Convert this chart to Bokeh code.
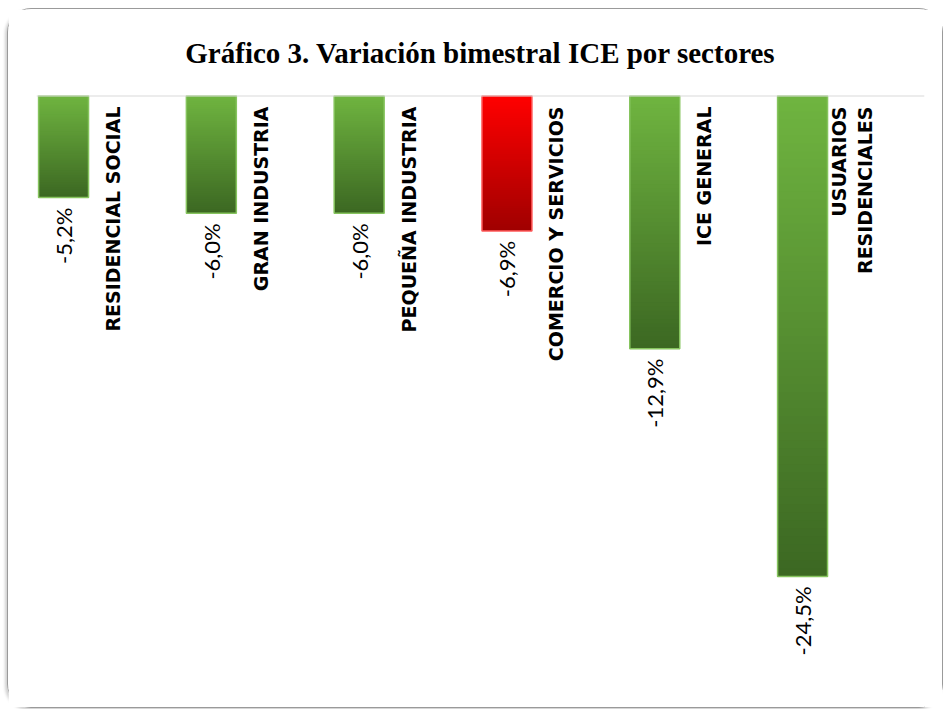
import numpy as np
from bokeh.plotting import figure
from bokeh.models import ColumnDataSource, Span, Range1d
from bokeh.core.properties import value
from bokeh.embed import file_html
from bokeh.resources import INLINE

# ---- data ----
categories = ["RESIDENCIAL SOCIAL", "GRAN INDUSTRIA", "PEQUEÑA INDUSTRIA",
              "COMERCIO Y SERVICIOS", "ICE GENERAL", "USUARIOS\nRESIDENCIALES"]
values = [-5.2, -6.0, -6.0, -6.9, -12.9, -24.5]
value_labels = ["-5,2%", "-6,0%", "-6,0%", "-6,9%", "-12,9%", "-24,5%"]
highlight = [False, False, False, True, False, False]
title = "Gráfico 3. Variación bimestral ICE por sectores"

# ---- styling helpers ----
GREEN_TOP, GREEN_BOT = (0x6F, 0xB4, 0x40), (0x3C, 0x68, 0x22)
RED_TOP, RED_BOT = (0xFF, 0x00, 0x00), (0xA0, 0x00, 0x00)
N = 60

def mix(c1, c2, t):
    return "#%02x%02x%02x" % tuple(int(round(a + (b - a) * t)) for a, b in zip(c1, c2))

xs = list(range(len(categories)))
seg = dict(x=[], top=[], bottom=[], color=[])
for i, v in enumerate(values):
    c1, c2 = (RED_TOP, RED_BOT) if highlight[i] else (GREEN_TOP, GREEN_BOT)
    for k in range(N):
        seg["x"].append(xs[i])
        seg["top"].append(v * k / N)
        seg["bottom"].append(v * min(k + 2, N) / N)
        seg["color"].append(mix(c1, c2, k / (N - 1)))

bars = ColumnDataSource(dict(
    x=xs, v=values, cat=categories, lab=value_labels,
    edge=["#ff5a5a" if h else "#86c45e" for h in highlight],
    catx=[x + 0.335 for x in xs],
))

p = figure(width=936, height=700, output_backend="svg", toolbar_location=None,
           x_range=Range1d(-0.183, 5.825), y_range=Range1d(-31.28, 0),
           x_axis_type=None, y_axis_type=None,
           min_border_left=28, min_border_right=20, min_border_top=86, min_border_bottom=0)
p.grid.visible = False
p.outline_line_color = None
p.styles = {"border": "1px solid #9a9a9a", "border-radius": "24px",
            "box-shadow": "-2px 2px 3px #d0d0d0", "margin-left": "7px",
            "margin-top": "8px"}

p.title.text = title
p.title.align = "center"
p.title.vertical_align = "top"
p.title.text_font = "Liberation Serif"
p.title.text_font_style = "bold"
p.title.text_font_size = "29px"
p.title.text_color = "black"
p.title.standoff = 50

p.add_layout(Span(location=0, dimension="width", line_color="#d9d9d9", line_width=2))

p.vbar(x="x", top="top", bottom="bottom", width=0.338, fill_color="color",
       line_color=None, source=ColumnDataSource(seg))
p.vbar(x="x", top=0, bottom="v", width=0.338, fill_alpha=0, line_color="edge",
       line_width=1.5, source=bars)

p.text(x="x", y="v", text="lab", angle=np.pi / 2, text_align="right",
       text_baseline="middle", y_offset=10, text_font=value("Lato"),
       text_font_size="22px", text_color="black", source=bars)

p.text(x="catx", y=0, text="cat", angle=np.pi / 2, text_align="right",
       text_baseline="middle", y_offset=11, text_font=value("DejaVu Sans"),
       text_font_style="bold", text_font_size="19px", text_color="black",
       text_line_height=1.2, source=bars)

open("out.html", "w").write(file_html(p, INLINE))
